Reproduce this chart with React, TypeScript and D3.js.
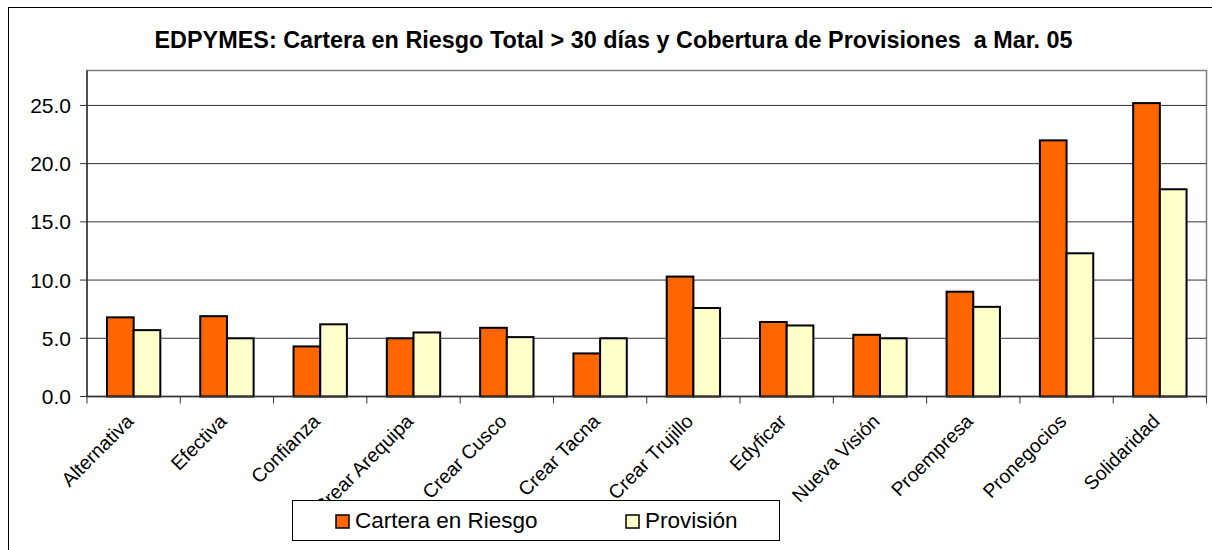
import React from "react";
import * as d3 from "d3";

const categories = [
  "Alternativa", "Efectiva", "Confianza", "Crear Arequipa", "Crear Cusco", "Crear Tacna",
  "Crear Trujillo", "Edyficar", "Nueva Visión", "Proempresa", "Pronegocios", "Solidaridad",
];
const carteraEnRiesgo = [6.8, 6.9, 4.3, 5.0, 5.9, 3.7, 10.3, 6.4, 5.3, 9.0, 22.0, 25.2];
const provision = [5.7, 5.0, 6.2, 5.5, 5.1, 5.0, 7.6, 6.1, 5.0, 7.7, 12.3, 17.8];
const seriesNames = ["Cartera en Riesgo", "Provisión"];
const seriesColors = ["#FF6600", "#FFFFCC"];
const yTicks = [0, 5, 10, 15, 20, 25];
const title = "EDPYMES: Cartera en Riesgo Total > 30 días y Cobertura de Provisiones  a Mar. 05";

const W = 1212;
const H = 550;
const plot = { left: 87, right: 1206.5, top: 70.5, bottom: 396.5 };
const FONT = "Arial, 'Liberation Sans', sans-serif";

export default function App() {
  const x = d3.scaleBand<string>().domain(categories).range([plot.left, plot.right]).paddingInner(0).paddingOuter(0);
  const bw = x.bandwidth();
  const groupW = bw * 0.572;
  const xs = d3.scaleBand<number>().domain([0, 1]).range([0, groupW]);
  const y = d3.scaleLinear().domain([0, 28]).range([plot.bottom, plot.top]);
  const series = [carteraEnRiesgo, provision];
  const boundaries = d3.range(categories.length + 1).map((i) => plot.left + i * bw);

  return (
    <svg width={W} height={H} style={{ position: "absolute", left: 0, top: 0, background: "#fff" }} fontFamily={FONT}>
      <rect x={8.5} y={7.5} width={W + 10} height={H + 10} fill="#fff" stroke="#000" strokeWidth={1} />
      <text x={613.5} y={48} textAnchor="middle" fontWeight="bold" fontSize={23.4} fill="#000" style={{ whiteSpace: "pre" }}>{title}</text>

      {/* plot area border */}
      <rect x={plot.left} y={plot.top} width={plot.right - plot.left} height={plot.bottom - plot.top} fill="#fff" stroke="#808080" strokeWidth={1.5} />
      {/* gridlines */}
      {yTicks.filter((t) => t > 0).map((t) => (
        <line key={t} x1={plot.left} x2={plot.right} y1={y(t)} y2={y(t)} stroke="#333" strokeWidth={1} />
      ))}
      {/* y axis */}
      <line x1={plot.left} x2={plot.left} y1={plot.top} y2={plot.bottom} stroke="#333" strokeWidth={1.5} />
      {yTicks.map((t) => (
        <g key={t}>
          <line x1={plot.left - 7} x2={plot.left} y1={y(t)} y2={y(t)} stroke="#333" strokeWidth={1} />
          <text x={71} y={y(t)} dy="0.36em" textAnchor="end" fontSize={21} fill="#000">{t.toFixed(1)}</text>
        </g>
      ))}

      {/* bars */}
      {categories.map((c, i) => {
        const gx = (x(c) as number) + (bw - groupW) / 2;
        return (
          <g key={c}>
            {series.map((s, k) => (
              <rect key={k} x={gx + (xs(k) as number)} y={y(s[i])} width={xs.bandwidth()} height={y(0) - y(s[i])}
                fill={seriesColors[k]} stroke="#000" strokeWidth={2} />
            ))}
          </g>
        );
      })}

      {/* x axis */}
      <line x1={plot.left} x2={plot.right} y1={plot.bottom} y2={plot.bottom} stroke="#333" strokeWidth={1.5} />
      {boundaries.map((b, i) => (
        <line key={i} x1={b} x2={b} y1={plot.bottom} y2={plot.bottom + 7} stroke="#333" strokeWidth={1} />
      ))}
      {categories.map((c) => {
        const cx = (x(c) as number) + bw / 2;
        return (
          <text key={c} transform={`translate(${cx + 1},${plot.bottom + 26}) rotate(-45)`} textAnchor="end" fontSize={19.5} fill="#000">{c}</text>
        );
      })}

      {/* legend */}
      <rect x={292.5} y={500.5} width={487} height={40} fill="#fff" stroke="#000" strokeWidth={1} />
      {seriesNames.map((n, k) => {
        const lx = k === 0 ? 336 : 626;
        return (
          <g key={n}>
            <rect x={lx} y={515} width={13} height={13} fill={seriesColors[k]} stroke="#000" strokeWidth={1.5} />
            <text x={lx + 19} y={528} fontSize={22.5} fill="#000">{n}</text>
          </g>
        );
      })}
    </svg>
  );
}
